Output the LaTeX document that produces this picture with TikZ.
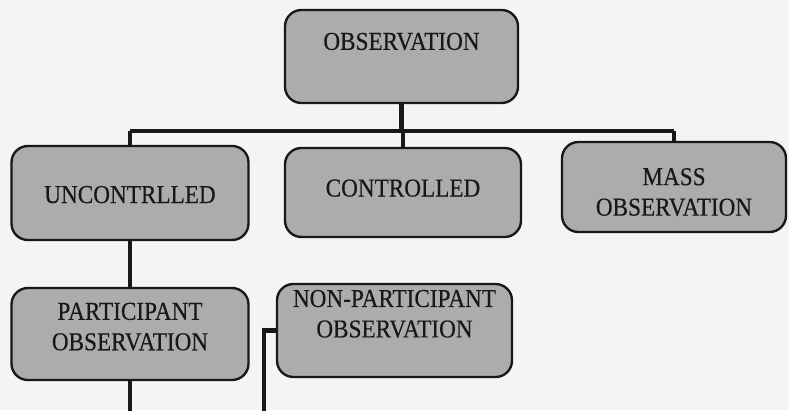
\documentclass[tikz,border=0pt]{standalone}
\usepackage{fontspec}
\setmainfont{Liberation Serif}[FakeStretch=0.9,FakeBold=0.3]
\usetikzlibrary{positioning,calc}
\definecolor{PageWhite} {RGB}{244,244,242}
\definecolor{BoxGray}   {RGB}{172,172,172}
\definecolor{InkBlack}  {RGB}{ 24, 24, 24}
%% text of a box, lifted (or dropped) inside it
\newcommand{\boxtext}[2]{\raisebox{#1}[0pt][0pt]{\begin{tabular}{@{}c@{}}#2\end{tabular}}}
\tikzset{
  %% rounded grey boxes of the tree
  obox/.style={rectangle,rounded corners=14pt,
               draw=InkBlack,line width=2pt,fill=BoxGray,
               font=\fontsize{22}{26}\selectfont,text=InkBlack,
               inner sep=0pt},
  %% thick connectors
  tline/.style={line width=3.8pt,color=InkBlack},
}
\begin{document}
\begin{tikzpicture}[x=0.03cm,y=-0.03cm]
    \fill[PageWhite] (0,0) rectangle (789,410);
    \useasboundingbox (0,0) rectangle (789,410);

    %% ── top: OBSERVATION ─────────────────────────────────
    \node[obox,minimum width=233*0.03cm,minimum height=93*0.03cm]
      (obs) at (401.5,56.5) {\boxtext{0.2cm}{OBSERVATION}};

    %% ── second row ───────────────────────────────────────
    \node[obox,minimum width=237*0.03cm,minimum height=94*0.03cm]
      (unc) at (130,193) {\boxtext{-0.3cm}{UNCONTRLLED}};
    \node[obox,minimum width=236*0.03cm,minimum height=89*0.03cm]
      (con) at (403,192.5) {\boxtext{-0.12cm}{CONTROLLED}};
    \node[obox,minimum width=224*0.03cm,minimum height=90*0.03cm]
      (mass) at (674,187) {\boxtext{-0.4cm}{MASS\\OBSERVATION}};

    %% ── third row ────────────────────────────────────────
    \node[obox,minimum width=237*0.03cm,minimum height=92*0.03cm]
      (part) at (130,334) {\boxtext{-0.03cm}{PARTICIPANT\\OBSERVATION}};
    \node[obox,minimum width=235*0.03cm,minimum height=93*0.03cm]
      (nonp) at (394.5,330.5) {\boxtext{0.25cm}{NON-PARTICIPANT\\OBSERVATION}};

    %% free ends of the connectors
    \coordinate (bar)  at (0,131);
    \coordinate (pbot) at (130,412);
    \coordinate (nbot) at (264,412);

    %% ── connectors ───────────────────────────────────────
    \draw[tline] (obs.south) -- (obs.south |- bar);
    \draw[tline] (unc.north |- bar) -- (mass.north |- bar);
    \draw[tline] (unc.north |- bar) -- (unc.north);
    \draw[tline] (con.north |- bar) -- (con.north);
    \draw[tline] (mass.north |- bar) -- (mass.north);
    \draw[tline] (unc.south) -- (part.north);
    \draw[tline] (part.south) -- (pbot);
    \draw[tline] (nonp.west) -| (nbot);
\end{tikzpicture}
\end{document}
